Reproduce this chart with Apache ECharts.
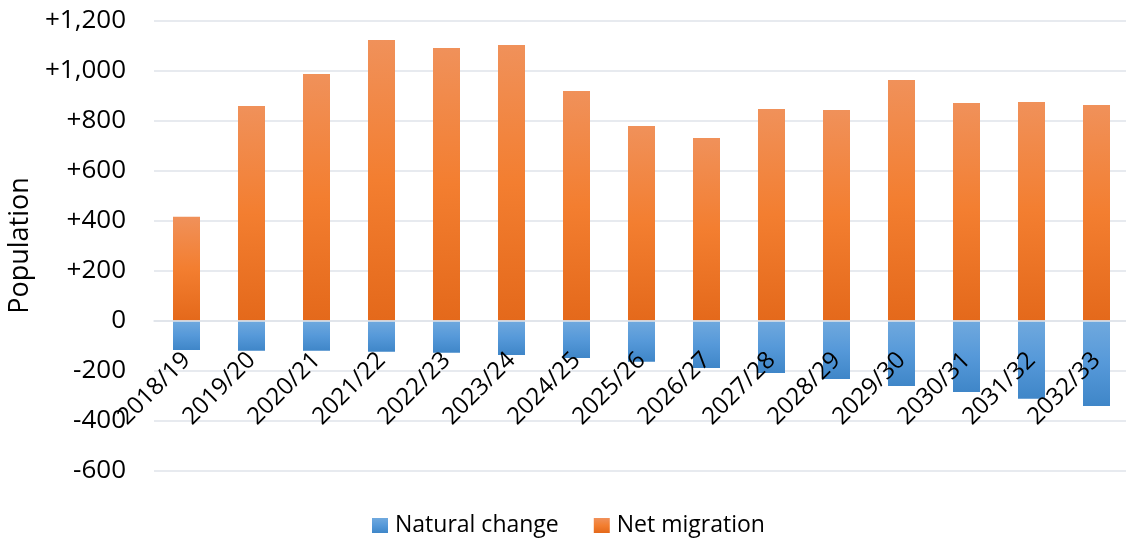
<!DOCTYPE html>
<html>
<head>
<meta charset="utf-8">
<script src="https://cdn.jsdelivr.net/npm/echarts@6/dist/echarts.min.js"></script>
<style>
html,body{margin:0;padding:0;background:#fff;}
#chart{width:1126px;height:541px;}
</style>
</head>
<body>
<div id="chart"></div>
<script>
const categories = ['2018/19','2019/20','2020/21','2021/22','2022/23','2023/24','2024/25','2025/26','2026/27','2027/28','2028/29','2029/30','2030/31','2031/32','2032/33'];
const naturalChange = [-118,-121,-121,-125,-129,-138,-150,-165,-190,-210,-234,-262,-286,-313,-342];
const netMigration = [415,858,986,1122,1090,1102,918,778,730,846,842,962,870,874,862];
const yTicks = { min: -600, max: 1200, interval: 200 };
const seriesNames = ['Natural change','Net migration'];

const FONT = '"Open Sans", "Liberation Sans", sans-serif';
const chart = echarts.init(document.getElementById('chart'));

const orangeGrad = new echarts.graphic.LinearGradient(0,0,0,1,[
  {offset:0,color:'#F0915A'},{offset:0.5,color:'#F37E30'},{offset:1,color:'#E4691B'}]);
const blueGrad = new echarts.graphic.LinearGradient(0,0,0,1,[
  {offset:0,color:'#70A9DE'},{offset:0.5,color:'#5699D9'},{offset:1,color:'#3F86C8'}]);

function fmt(v){
  if (v > 0) return '+' + v.toLocaleString('en-US');
  if (v < 0) return '-' + Math.abs(v).toLocaleString('en-US');
  return '0';
}

chart.setOption({
  animation:false,
  textStyle:{fontFamily:FONT},
  grid:{left:154, right:-3, top:20.5, bottom:70.5, containLabel:false, outerBoundsMode:'none'},
  legend:{
    top:509, left:367,
    itemWidth:16, itemHeight:15, itemGap:35,
    icon:'rect',
    textStyle:{fontFamily:FONT, fontSize:23, color:'#000', padding:[0,0,0,2]},
    data:seriesNames
  },
  xAxis:{
    type:'category', data:categories,
    offset:-150, z:5,
    axisLine:{show:true, onZero:false, lineStyle:{color:'#dfe3ea', width:1.5}},
    axisTick:{show:false},
    axisLabel:{rotate:45, interval:0, margin:36, fontSize:24, color:'#000', fontFamily:FONT}
  },
  yAxis:{
    type:'value', min:yTicks.min, max:yTicks.max, interval:yTicks.interval,
    name:'Population', nameLocation:'middle', nameGap:120, nameRotate:90,
    nameTextStyle:{fontSize:27, color:'#000', fontFamily:FONT},
    axisLine:{show:false}, axisTick:{show:false},
    splitLine:{lineStyle:{color:'#dfe3ea', width:1.5}},
    axisLabel:{formatter:fmt, margin:28, fontSize:26, color:'#000', fontFamily:FONT}
  },
  series:[
    {name:seriesNames[0], type:'bar', stack:'t', barWidth:27, data:naturalChange,
     itemStyle:{color:blueGrad}},
    {name:seriesNames[1], type:'bar', stack:'t', barWidth:27, data:netMigration,
     itemStyle:{color:orangeGrad}}
  ]
});
</script>
</body>
</html>
